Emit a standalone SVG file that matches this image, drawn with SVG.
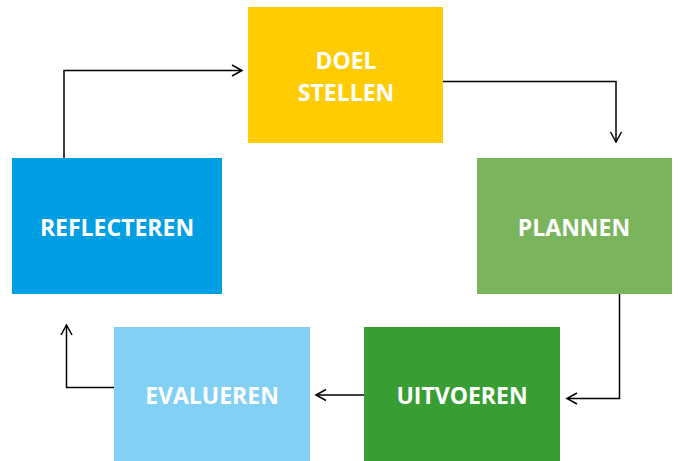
<svg xmlns="http://www.w3.org/2000/svg" width="678" height="461" viewBox="0 0 678 461">
<style>
.lbl{font-family:"Open Sans","Liberation Sans",sans-serif;font-weight:700;font-size:23px;fill:#fff;text-anchor:middle}
.con{fill:none;stroke:#000;stroke-width:1.5}
</style>
<defs>
<marker id="ah" markerWidth="14" markerHeight="14" refX="11" refY="7" orient="auto" markerUnits="userSpaceOnUse">
<path d="M1,1.5 L11,7 L1,12.5" fill="none" stroke="#000" stroke-width="1.5"/>
</marker>
</defs>
<rect width="678" height="461" fill="#fff"/>
<g id="doel">
<rect x="248" y="7" width="195" height="136" fill="#FECC00"/>
<text class="lbl" x="346" y="69">DOEL</text>
<text class="lbl" x="346" y="101">STELLEN</text>
</g>
<g id="plannen">
<rect x="477" y="158" width="195" height="136" fill="#7AB45D"/>
<text class="lbl" x="574" y="236">PLANNEN</text>
</g>
<g id="uitvoeren">
<rect x="364" y="327" width="196" height="134" fill="#389E33"/>
<text class="lbl" x="462" y="404">UITVOEREN</text>
</g>
<g id="evalueren">
<rect x="114" y="327" width="196" height="134" fill="#83D0F5"/>
<text class="lbl" x="212" y="404">EVALUEREN</text>
</g>
<g id="reflecteren">
<rect x="12" y="158" width="210" height="136" fill="#009FE3"/>
<text class="lbl" x="117" y="236">REFLECTEREN</text>
</g>
<g id="connectors">
<path class="con" d="M64,158 V70.5 H242" marker-end="url(#ah)"/>
<path class="con" d="M443,81.5 H616 V142" marker-end="url(#ah)"/>
<path class="con" d="M619.5,294 V398.5 H567" marker-end="url(#ah)"/>
<path class="con" d="M364,395 H316" marker-end="url(#ah)"/>
<path class="con" d="M114,387.5 H66.5 V325" marker-end="url(#ah)"/>
</g>
</svg>
